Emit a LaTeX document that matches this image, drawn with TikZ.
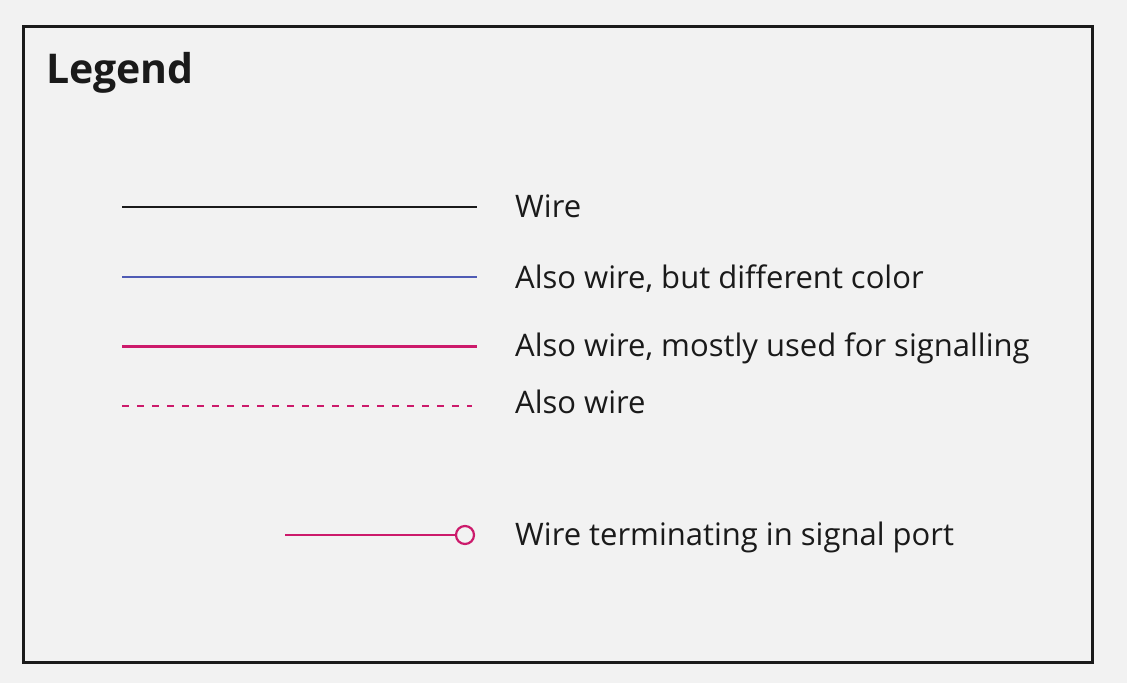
\documentclass[tikz,border=0pt]{standalone}
\usepackage{fontspec}
\setmainfont{Open Sans}
\definecolor{bg}{HTML}{F2F2F2}
\definecolor{ink}{HTML}{1A1A1A}
\definecolor{wireblue}{HTML}{4F5BB5}
\definecolor{wiresig}{HTML}{CC1A6B}
\begin{document}
\begin{tikzpicture}[x=1pt,y=-1pt,
  lbl/.style={anchor=base west,inner sep=0pt,text=ink,font=\fontsize{31}{37}\selectfont},
  wireblack/.style={draw=ink,line width=1.8pt},
  wirebl/.style={draw=wireblue,line width=2pt},
  wiremag/.style={draw=wiresig,line width=2.05pt},
  wiredash/.style={draw=wiresig,line width=2pt,dash pattern=on 7pt off 8pt},
  port/.style={circle,draw=wiresig,line width=2.2pt,minimum size=18pt,inner sep=0pt,fill=bg}]
\fill[bg] (0,0) rectangle (1127,683);
\useasboundingbox (0,0) rectangle (1127,683);
\draw[ink,line width=3pt] (23.5,26) rectangle (1092,662);
\node[anchor=base west,inner sep=0pt,text=ink,font=\fontsize{41}{49}\selectfont\bfseries] (title) at (46,83) {Legend};
% rows
\coordinate (a1) at (122,207); \coordinate (a2) at (477,207);
\draw[wireblack] (a1) -- (a2);
\node[lbl] (t1) at (515,217) {Wire};
\coordinate (b1) at (122,276.5); \coordinate (b2) at (477,276.5);
\draw[wirebl] (b1) -- (b2);
\node[lbl] (t2) at (515,288) {Also wire, but different color};
\coordinate (c1) at (122,346.5); \coordinate (c2) at (477,346.5);
\draw[wiremag] (c1) -- (c2);
\node[lbl] (t3) at (515,356) {Also wire, mostly used for signalling};
\coordinate (d1) at (122,405.5); \coordinate (d2) at (472,405.5);
\draw[wiredash] (d1) -- (d2);
\node[lbl] (t4) at (515,413) {Also wire};
\coordinate (e1) at (285,535);
\node[port] (p) at (465,535) {};
\draw[wiremag] (e1) -- (p.west);
\node[lbl] (t5) at (515,545) {Wire terminating in signal port};
\end{tikzpicture}
\end{document}
